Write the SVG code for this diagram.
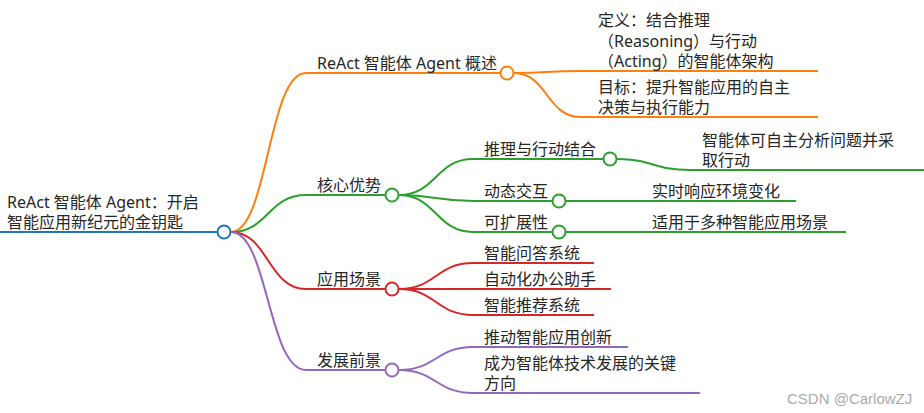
<svg xmlns="http://www.w3.org/2000/svg" width="924" height="413" viewBox="0 0 924 413">
<style>
text{font-family:"Noto Sans","Noto Sans CJK SC",sans-serif;font-size:16px;fill:#262626;}
.l{fill:none;stroke-width:2;}
.c{fill:#fff;stroke-width:2;}
.b{stroke:#1f77b4;}
.o{stroke:#ff7f0e;}
.g{stroke:#2ca02c;}
.r{stroke:#d62728;}
.p{stroke:#9467bd;}
.wm{font-family:"Liberation Sans",sans-serif;font-size:15px;fill:#aaa;}
</style>
<rect width="924" height="413" fill="#fff"/>
<g id="connectors">
<path class="l b" d="M0,232 H217"/>
<path class="l o" d="M231,232 C268,232 268,73 306,73 H500"/>
<path class="l g" d="M231,232 C268,232 268,195 306,195 H385"/>
<path class="l r" d="M231,232 C268,232 268,289 306,289 H385"/>
<path class="l p" d="M231,232 C268,232 268,370 306,370 H385"/>
<path class="l o" d="M514,73 C547,73 547,71 580,71 H818"/>
<path class="l o" d="M514,73 C547,73 547,117 580,117 H818"/>
<path class="l g" d="M399,195 C436,195 436,159 473,159 H603"/>
<path class="l g" d="M399,195 C436,195 436,201 473,201 H552"/>
<path class="l g" d="M399,195 C436,195 436,232 473,232 H552"/>
<path class="l g" d="M617,159 C653,159 653,170 690,170 H924"/>
<path class="l g" d="M566,201 H796"/>
<path class="l g" d="M566,232 H846"/>
<path class="l r" d="M399,289 C436,289 436,263 473,263 H594"/>
<path class="l r" d="M399,289 H611"/>
<path class="l r" d="M399,289 C436,289 436,315 473,315 H594"/>
<path class="l p" d="M399,370 C436,370 436,347 473,347 H628"/>
<path class="l p" d="M399,370 C436,370 436,393 473,393 H700"/>
</g>
<g id="root">
<text x="7" y="208">ReAct 智能体 Agent：开启</text>
<text x="7" y="228">智能应用新纪元的金钥匙</text>
<circle class="c b" cx="224" cy="232" r="6.5"/>
</g>
<g id="overview">
<text x="317" y="69">ReAct 智能体 Agent 概述</text>
<circle class="c o" cx="507" cy="73" r="6.5"/>
</g>
<g id="definition">
<text x="598" y="26">定义：结合推理</text>
<text x="598" y="47">（Reasoning）与行动</text>
<text x="598" y="67">（Acting）的智能体架构</text>
</g>
<g id="goal">
<text x="598" y="93">目标：提升智能应用的自主</text>
<text x="598" y="113">决策与执行能力</text>
</g>
<g id="advantages">
<text x="317" y="191">核心优势</text>
<circle class="c g" cx="392" cy="195" r="6.5"/>
</g>
<g id="reason-act">
<text x="484" y="155">推理与行动结合</text>
<circle class="c g" cx="610" cy="159" r="6.5"/>
</g>
<g id="reason-act-desc">
<text x="702" y="146">智能体可自主分析问题并采</text>
<text x="702" y="166">取行动</text>
</g>
<g id="dynamic">
<text x="484" y="197">动态交互</text>
<circle class="c g" cx="559" cy="201" r="6.5"/>
</g>
<g id="dynamic-desc">
<text x="652" y="197">实时响应环境变化</text>
</g>
<g id="extensible">
<text x="484" y="228">可扩展性</text>
<circle class="c g" cx="559" cy="232" r="6.5"/>
</g>
<g id="extensible-desc">
<text x="652" y="228">适用于多种智能应用场景</text>
</g>
<g id="scenarios">
<text x="317" y="285">应用场景</text>
<circle class="c r" cx="392" cy="289" r="6.5"/>
</g>
<g id="qa"><text x="484" y="259">智能问答系统</text></g>
<g id="office"><text x="484" y="285">自动化办公助手</text></g>
<g id="recommend"><text x="484" y="311">智能推荐系统</text></g>
<g id="prospects">
<text x="317" y="366">发展前景</text>
<circle class="c p" cx="392" cy="370" r="6.5"/>
</g>
<g id="innovation"><text x="484" y="343">推动智能应用创新</text></g>
<g id="direction">
<text x="484" y="369">成为智能体技术发展的关键</text>
<text x="484" y="389">方向</text>
</g>
<text class="wm" x="787" y="404">CSDN @CarlowZJ</text>
</svg>
